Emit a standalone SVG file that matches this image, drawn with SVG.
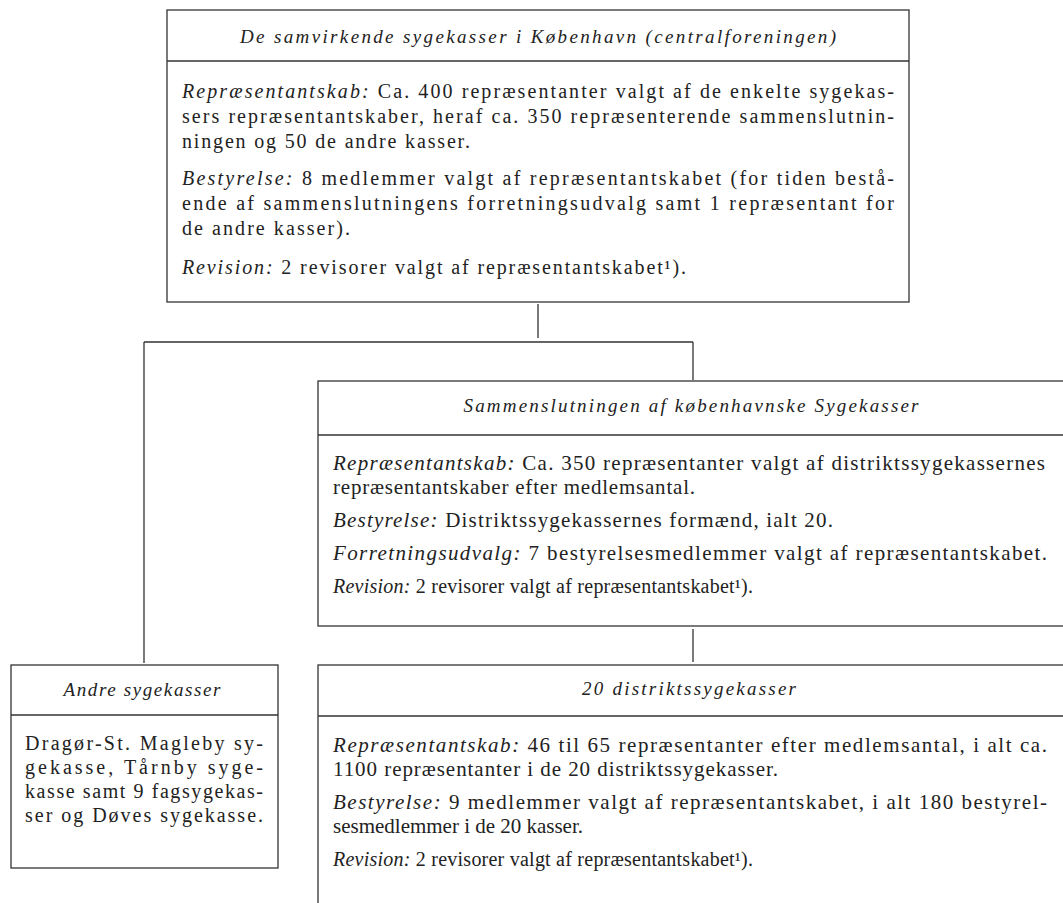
<svg xmlns="http://www.w3.org/2000/svg" width="1063" height="903" viewBox="0 0 1063 903">
<style>
.box{fill:none;stroke:#333;stroke-width:1.3}
.sep{stroke:#333;stroke-width:1.3}
.con{stroke:#333;stroke-width:1.3;fill:none}
text{font-family:"Liberation Serif","Times New Roman",serif;fill:#222;font-size:20px}
.t{font-style:italic;text-anchor:middle;font-size:19px}
.i{font-style:italic}
.m{font-size:21px}
.r{font-size:20px}
</style>
<rect width="1063" height="903" fill="#fff"/>
<g id="connectors">
<path class="con" d="M538 304V338M144 342H693M144 342V663M693 342V380M693 629V662"/>
</g>
<g id="centralforeningen">
<rect class="box" x="167" y="10" width="742" height="292"/>
<line class="sep" x1="167" y1="61" x2="909" y2="61"/>
<text class="t" x="538" y="43" textLength="596" lengthAdjust="spacing">De samvirkende sygekasser i København (centralforeningen)</text>
<text x="182" y="98" textLength="712" lengthAdjust="spacing"><tspan class="i">Repræsentantskab:</tspan> Ca. 400 repræsentanter valgt af de enkelte sygekas-</text>
<text x="182" y="123" textLength="712" lengthAdjust="spacing">sers repræsentantskaber, heraf ca. 350 repræsenterende sammenslutnin-</text>
<text x="182" y="148" textLength="288" lengthAdjust="spacing">ningen og 50 de andre kasser.</text>
<text x="182" y="185" textLength="712" lengthAdjust="spacing"><tspan class="i">Bestyrelse:</tspan> 8 medlemmer valgt af repræsentantskabet (for tiden bestå-</text>
<text x="182" y="210" textLength="712" lengthAdjust="spacing">ende af sammenslutningens forretningsudvalg samt 1 repræsentant for</text>
<text x="182" y="235" textLength="168" lengthAdjust="spacing">de andre kasser).</text>
<text x="182" y="274" textLength="504" lengthAdjust="spacing"><tspan class="i">Revision:</tspan> 2 revisorer valgt af repræsentantskabet¹).</text>
</g>
<g id="sammenslutningen">
<rect class="box" x="318" y="381" width="760" height="245"/>
<line class="sep" x1="318" y1="435" x2="1063" y2="435"/>
<text class="t" x="691" y="412" textLength="455" lengthAdjust="spacing">Sammenslutningen af københavnske Sygekasser</text>
<text class="m" x="333" y="470" textLength="712" lengthAdjust="spacing"><tspan class="i">Repræsentantskab:</tspan> Ca. 350 repræsentanter valgt af distriktssygekassernes</text>
<text class="m" x="333" y="494" textLength="362" lengthAdjust="spacing">repræsentantskaber efter medlemsantal.</text>
<text class="m" x="333" y="527" textLength="500" lengthAdjust="spacing"><tspan class="i">Bestyrelse:</tspan> Distriktssygekassernes formænd, ialt 20.</text>
<text class="m" x="333" y="560" textLength="714" lengthAdjust="spacing"><tspan class="i">Forretningsudvalg:</tspan> 7 bestyrelsesmedlemmer valgt af repræsentantskabet.</text>
<text class="r" x="333" y="593" textLength="420" lengthAdjust="spacing"><tspan class="i">Revision:</tspan> 2 revisorer valgt af repræsentantskabet¹).</text>
</g>
<g id="andre">
<rect class="box" x="11" y="665" width="267" height="203"/>
<line class="sep" x1="11" y1="715" x2="278" y2="715"/>
<text class="t" x="142" y="696" textLength="157" lengthAdjust="spacing">Andre sygekasser</text>
<text x="25" y="750" textLength="238" lengthAdjust="spacing">Dragør-St. Magleby sy-</text>
<text x="25" y="774" textLength="238" lengthAdjust="spacing">gekasse, Tårnby syge-</text>
<text x="25" y="798" textLength="238" lengthAdjust="spacing">kasse samt 9 fagsygekas-</text>
<text x="25" y="822" textLength="238" lengthAdjust="spacing">ser og Døves sygekasse.</text>
</g>
<g id="distrikter">
<rect class="box" x="318" y="665" width="760" height="260"/>
<line class="sep" x1="318" y1="716" x2="1063" y2="716"/>
<text class="t" x="689" y="695" textLength="214" lengthAdjust="spacing">20 distriktssygekasser</text>
<text class="m" x="333" y="752" textLength="714" lengthAdjust="spacing"><tspan class="i">Repræsentantskab:</tspan> 46 til 65 repræsentanter efter medlemsantal, i alt ca.</text>
<text class="m" x="333" y="776" textLength="445" lengthAdjust="spacing">1100 repræsentanter i de 20 distriktssygekasser.</text>
<text class="m" x="333" y="809" textLength="714" lengthAdjust="spacing"><tspan class="i">Bestyrelse:</tspan> 9 medlemmer valgt af repræsentantskabet, i alt 180 bestyrel-</text>
<text class="m" x="333" y="833" textLength="250" lengthAdjust="spacing">sesmedlemmer i de 20 kasser.</text>
<text class="r" x="333" y="866" textLength="420" lengthAdjust="spacing"><tspan class="i">Revision:</tspan> 2 revisorer valgt af repræsentantskabet¹).</text>
</g>
</svg>
